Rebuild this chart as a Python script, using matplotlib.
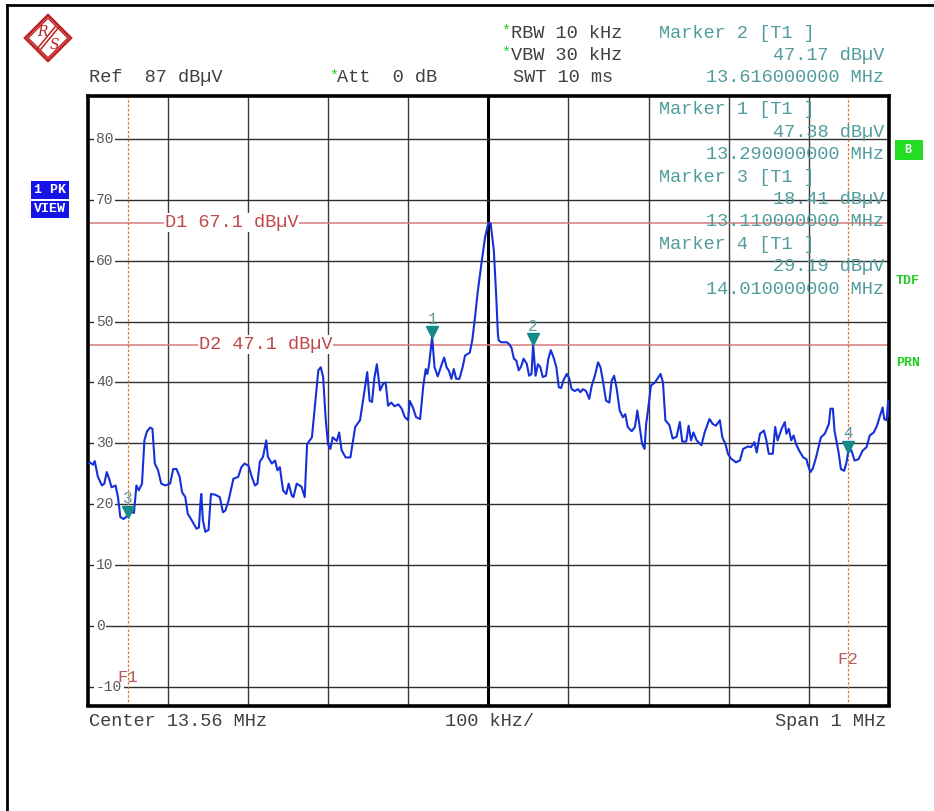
import matplotlib
matplotlib.use("Agg")
import matplotlib.pyplot as plt
import matplotlib.patches as mpatches
import matplotlib.transforms as mtrans

# ---------------- data ----------------
freq_mhz = [13.060, 13.063, 13.067, 13.069, 13.073, 13.078, 13.081, 13.084, 13.087, 13.090,
            13.095, 13.098, 13.101, 13.105, 13.109, 13.113, 13.118, 13.121, 13.124, 13.128,
            13.131, 13.134, 13.138, 13.141, 13.144, 13.148, 13.152, 13.157, 13.163, 13.167,
            13.171, 13.175, 13.178, 13.182, 13.185, 13.190, 13.196, 13.199, 13.201, 13.202,
            13.204, 13.207, 13.211, 13.214, 13.219, 13.225, 13.229, 13.232, 13.236, 13.242,
            13.248, 13.252, 13.256, 13.261, 13.265, 13.269, 13.272, 13.275, 13.279, 13.283,
            13.285, 13.290, 13.294, 13.297, 13.300, 13.304, 13.308, 13.311, 13.315, 13.317,
            13.321, 13.327, 13.331, 13.334, 13.340, 13.344, 13.348, 13.351, 13.354, 13.357,
            13.360, 13.363, 13.366, 13.371, 13.374, 13.377, 13.382, 13.388, 13.394, 13.400,
            13.405, 13.409, 13.412, 13.415, 13.418, 13.421, 13.425, 13.429, 13.432, 13.435,
            13.439, 13.443, 13.448, 13.452, 13.456, 13.460, 13.462, 13.466, 13.470, 13.475,
            13.479, 13.482, 13.484, 13.486, 13.490, 13.493, 13.497, 13.502, 13.505, 13.508,
            13.511, 13.514, 13.517, 13.520, 13.524, 13.528, 13.531, 13.537, 13.540, 13.543,
            13.547, 13.552, 13.556, 13.560, 13.563, 13.567, 13.570, 13.572, 13.573, 13.576,
            13.583, 13.586, 13.589, 13.592, 13.595, 13.598, 13.601, 13.604, 13.608, 13.611,
            13.614, 13.616, 13.619, 13.622, 13.625, 13.628, 13.632, 13.635, 13.638, 13.642,
            13.645, 13.648, 13.651, 13.654, 13.658, 13.661, 13.664, 13.668, 13.672, 13.675,
            13.678, 13.682, 13.686, 13.689, 13.693, 13.697, 13.700, 13.703, 13.707, 13.711,
            13.714, 13.717, 13.720, 13.724, 13.728, 13.731, 13.734, 13.739, 13.743, 13.746,
            13.749, 13.752, 13.755, 13.757, 13.759, 13.763, 13.768, 13.775, 13.778, 13.781,
            13.786, 13.790, 13.795, 13.799, 13.802, 13.807, 13.810, 13.813, 13.816, 13.820,
            13.826, 13.830, 13.836, 13.840, 13.844, 13.849, 13.852, 13.856, 13.859, 13.863,
            13.869, 13.874, 13.878, 13.884, 13.888, 13.892, 13.895, 13.899, 13.904, 13.907,
            13.910, 13.915, 13.918, 13.921, 13.926, 13.930, 13.932, 13.935, 13.938, 13.941,
            13.944, 13.948, 13.953, 13.957, 13.959, 13.962, 13.965, 13.969, 13.975, 13.980,
            13.985, 13.987, 13.990, 13.992, 13.997, 14.000, 14.004, 14.007, 14.009, 14.013,
            14.017, 14.022, 14.027, 14.032, 14.036, 14.041, 14.045, 14.049, 14.052, 14.054,
            14.057, 14.059, 14.060]
level_dbuv = [26.7, 26.9, 26.5, 27.1, 24.5, 23.1, 23.4, 25.3, 24.2, 22.8,
              23.1, 21.2, 17.9, 17.6, 18.0, 18.8, 18.6, 23.1, 22.3, 23.4,
              30.5, 31.9, 32.6, 32.4, 26.7, 25.6, 23.4, 23.1, 23.4, 25.8,
              25.8, 24.5, 22.0, 21.2, 18.5, 17.4, 16.0, 16.2, 20.4, 21.7,
              17.4, 15.5, 15.8, 21.7, 21.6, 21.2, 18.7, 19.0, 20.6, 24.2,
              24.5, 26.1, 26.7, 26.3, 24.5, 23.1, 23.4, 27.0, 27.8, 30.5,
              27.8, 26.7, 27.2, 25.6, 26.1, 22.3, 21.7, 23.4, 21.4, 21.2,
              23.4, 22.9, 21.2, 29.9, 31.0, 36.5, 42.0, 42.5, 40.9, 34.3,
              29.9, 29.1, 31.0, 30.4, 31.8, 28.9, 27.7, 27.7, 32.7, 33.8,
              38.1, 41.7, 37.0, 36.8, 40.8, 43.0, 38.7, 39.8, 40.0, 36.2,
              36.7, 36.1, 36.4, 35.7, 34.3, 33.8, 37.0, 35.9, 34.3, 34.0,
              39.5, 42.2, 41.4, 42.8, 47.4, 42.5, 41.0, 43.0, 44.1, 42.5,
              41.9, 40.6, 42.2, 40.6, 40.6, 42.5, 44.4, 44.9, 46.9, 50.1,
              55.0, 60.0, 63.8, 66.1, 66.1, 61.6, 54.0, 48.0, 46.9, 46.6,
              46.6, 46.3, 45.7, 43.9, 43.6, 42.0, 42.6, 43.9, 43.1, 41.1,
              41.4, 46.3, 41.1, 43.0, 42.5, 40.9, 41.1, 43.9, 45.3, 43.9,
              42.5, 39.2, 39.1, 40.4, 41.4, 40.7, 38.9, 38.6, 38.9, 38.4,
              38.9, 38.6, 37.3, 39.4, 41.1, 43.3, 42.5, 40.3, 37.0, 36.7,
              40.3, 41.1, 39.2, 35.4, 34.3, 34.8, 32.7, 32.0, 32.7, 35.4,
              32.7, 29.9, 29.1, 33.2, 35.1, 39.5, 40.0, 41.4, 40.0, 33.8,
              33.0, 30.8, 31.1, 33.5, 30.3, 30.3, 32.9, 30.5, 31.8, 30.5,
              29.7, 31.8, 34.0, 33.2, 32.9, 33.8, 31.0, 29.9, 28.3, 27.5,
              26.9, 27.2, 29.1, 29.5, 29.4, 30.2, 28.5, 31.6, 32.1, 30.5,
              28.3, 28.3, 32.7, 30.5, 32.4, 33.5, 31.6, 32.4, 30.5, 31.3,
              29.9, 28.8, 27.7, 27.4, 26.4, 25.3, 25.9, 27.7, 31.0, 31.6,
              33.2, 35.7, 35.7, 32.1, 28.6, 25.8, 25.5, 26.9, 28.6, 28.9,
              27.2, 27.4, 28.8, 29.4, 31.3, 31.8, 32.9, 34.6, 35.9, 34.0,
              33.8, 37.0, 34.5]

marker_ids = ["1", "2", "3", "4"]
marker_freq = [13.490, 13.616, 13.110, 14.009]
marker_level = [47.4, 46.3, 18.0, 28.6]

display_lines = ["D1", "D2"]
display_level = [66.2, 46.2]
display_text = ["D1 67.1 dBµV", "D2 47.1 dBµV"]
display_label_freq = [13.240, 13.282]

limit_lines = ["F1", "F2"]
limit_freq = [13.110, 14.009]
limit_label_level = [-8.4, -5.4]

y_ticks = [80, 70, 60, 50, 40, 30, 20, 10, 0, -10]
x_grid = [13.06 + 0.1 * i for i in range(11)]

readout_lines = [("Marker 1 [T1 ]", "47.38 dBµV", "13.290000000 MHz"),
                 ("Marker 3 [T1 ]", "18.41 dBµV", "13.110000000 MHz"),
                 ("Marker 4 [T1 ]", "29.19 dBµV", "14.010000000 MHz")]

# ---------------- figure ----------------
W, H = 934, 811
fig = plt.figure(figsize=(W / 100, H / 100), dpi=100)
fig.patch.set_facecolor("white")
MONO = "Liberation Mono"
TEAL = "#519c9c"
TXT = "#404040"


def fx(x):
    return x / W


def fy(y):
    return 1 - y / H


def T(x, y, s, ha="left", color=TXT, size=13.4, **kw):
    fig.text(fx(x), fy(y), s, ha=ha, va="center", color=color, fontsize=size,
             family=MONO, **kw)


L, R, TOP, BOT = 87.5, 889.0, 96.0, 705.5
ax = fig.add_axes([fx(L), fy(BOT), (R - L) / W, (BOT - TOP) / H])
ax.set_xlim(13.06, 14.06)
ax.set_ylim(-13, 87)
ax.set_xticks(x_grid)
ax.set_yticks(y_ticks)
ax.tick_params(length=0, labelbottom=False, labelleft=False)
for sp in ax.spines.values():
    sp.set_linewidth(2.6)
    sp.set_color("black")
for xv in x_grid[1:-1]:
    ax.axvline(xv, color="#3a3a3a", lw=1.0, zorder=1)
ax.axvline(13.56, color="black", lw=2.2, zorder=1)
for yv in y_ticks:
    ax.axhline(yv, color="#2e2e2e", lw=1.0, zorder=1)

# y tick labels drawn inside the grid
for yv in y_ticks:
    ax.text(0.0105, yv, str(yv), transform=ax.get_yaxis_transform(), ha="left",
            va="center", fontsize=10.5, family=MONO, color="#5a5a5a", zorder=3,
            bbox=dict(boxstyle="square,pad=0.12", fc="white", ec="none"))

# display lines
for lvl, txt, lf in zip(display_level, display_text, display_label_freq):
    ax.axhline(lvl, color="#d47a7a", lw=1.1, zorder=2)
    ax.text(lf, lvl, txt, ha="center", va="center", fontsize=13.4, family=MONO,
            color="#c04848", zorder=3,
            bbox=dict(boxstyle="square,pad=0.05", fc="white", ec="none"))

# frequency lines
for name, f, ll in zip(limit_lines, limit_freq, limit_label_level):
    ax.axvline(f, color="#e0702a", lw=0.9, ls=(0, (2, 1.5)), zorder=2)
    ax.text(f, ll, name, ha="center", va="center", fontsize=12.5, family=MONO,
            color="#b85a5a", zorder=3)

# trace
ax.plot(freq_mhz, level_dbuv, color="#1530d8", lw=1.5, zorder=4)

# markers
up = mtrans.offset_copy(ax.transData, fig=fig, x=0, y=5, units="dots")
lab = mtrans.offset_copy(ax.transData, fig=fig, x=0, y=18, units="dots")
for mid, mf, ml in zip(marker_ids, marker_freq, marker_level):
    ax.plot([mf], [ml], marker="v", ms=9, color="#138a8a", mec="#138a8a",
            transform=up, zorder=5)
    ax.text(mf, ml, mid, transform=lab, ha="center", va="center", fontsize=11.5,
            family=MONO, color="#5a9a9a", zorder=5)

# marker readouts inside the plot
ry = 110
for name, lvl, fr in readout_lines:
    T(659, ry, name, color=TEAL)
    T(884, ry + 22.4, lvl, ha="right", color=TEAL)
    T(884, ry + 44.8, fr, ha="right", color=TEAL)
    ry += 67.2

# header
GREEN = "#22cc22"
T(89, 77, "Ref  87 dBµV")
T(329, 76, "*", color=GREEN, size=11)
T(337, 77, "Att  0 dB")
T(501, 31, "*", color=GREEN, size=11)
T(511, 33, "RBW 10 kHz")
T(501, 53, "*", color=GREEN, size=11)
T(511, 55, "VBW 30 kHz")
T(513, 77, "SWT 10 ms")
T(659, 33, "Marker 2 [T1 ]", color=TEAL)
T(884, 55, "47.17 dBµV", ha="right", color=TEAL)
T(884, 77, "13.616000000 MHz", ha="right", color=TEAL)

# footer
T(89, 721, "Center 13.56 MHz")
T(445, 721, "100 kHz/")
T(886, 721, "Span 1 MHz", ha="right")

# side annotations
fig.text(fx(50), fy(190), "1 PK", ha="center", va="center", fontsize=9.5,
         family=MONO, weight="bold", color="white",
         bbox=dict(boxstyle="square,pad=0.2", fc="#1414e6", ec="none"))
fig.text(fx(50), fy(209.5), "VIEW", ha="center", va="center", fontsize=9.5,
         family=MONO, weight="bold", color="white",
         bbox=dict(boxstyle="square,pad=0.2", fc="#1414e6", ec="none"))
fig.text(fx(909), fy(150), " B ", ha="center", va="center", fontsize=8.5,
         family=MONO, weight="bold", color="white",
         bbox=dict(boxstyle="square,pad=0.3", fc="#22dd22", ec="none"))
fig.text(fx(908), fy(281), "TDF", ha="center", va="center", fontsize=9.5,
         family=MONO, weight="bold", color="#22cc22")
fig.text(fx(908), fy(363), "PRN", ha="center", va="center", fontsize=9.5,
         family=MONO, weight="bold", color="#22cc22")

# outer frame (top and left)
fig.add_artist(plt.Line2D([fx(7), 1.0], [fy(5), fy(5)], color="black", lw=2))
fig.add_artist(plt.Line2D([fx(7), fx(7)], [fy(5), 0.0], color="black", lw=2))

# logo (R&S diamond)
cx, cy, r = 48, 38, 23
for rr, lw in ((r, 1.8), (r - 3, 1.1)):
    pts = [(fx(cx), fy(cy - rr)), (fx(cx + rr), fy(cy)), (fx(cx), fy(cy + rr)),
           (fx(cx - rr), fy(cy))]
    fig.add_artist(mpatches.Polygon(pts, closed=True, fill=False, ec="#c02020",
                                    lw=lw, transform=fig.transFigure))
for d in (-2, 2):
    fig.add_artist(plt.Line2D([fx(cx - 9 + d), fx(cx + 9 + d)],
                              [fy(cy + 11), fy(cy - 11)],
                              color="#c02020", lw=1.1))
fig.text(fx(cx - 6), fy(cy - 6), "R", ha="center", va="center", fontsize=10,
         family="DejaVu Serif", color="#c02020", style="italic")
fig.text(fx(cx + 6), fy(cy + 7), "S", ha="center", va="center", fontsize=10,
         family="DejaVu Serif", color="#c02020", style="italic")

fig.savefig("out.png", dpi=100, facecolor="white")
